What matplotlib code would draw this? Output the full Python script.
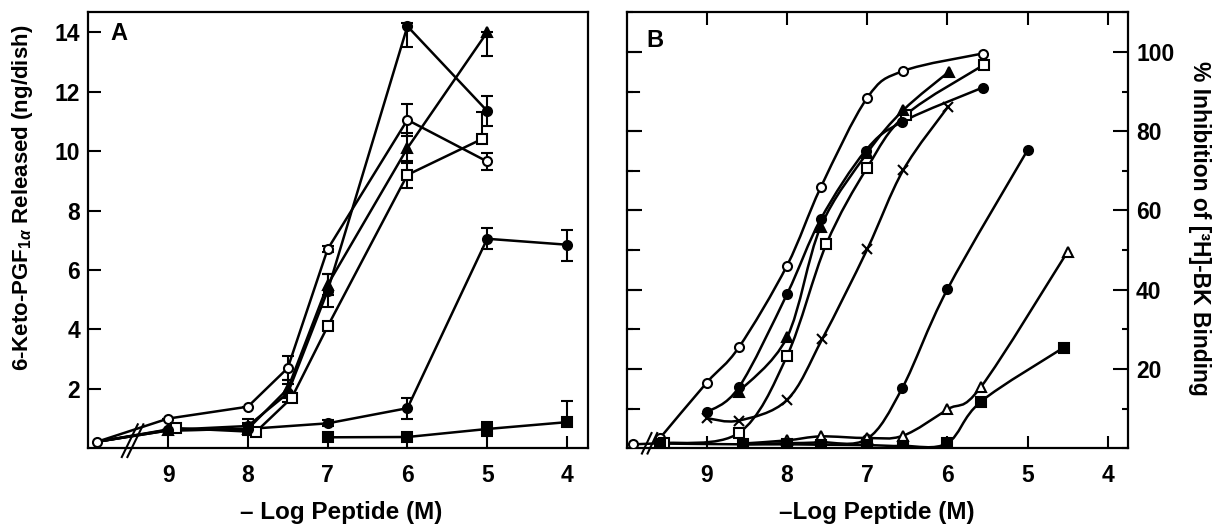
import numpy as np
import matplotlib
matplotlib.use("Agg")
import matplotlib.pyplot as plt
from matplotlib.path import Path
from matplotlib.patches import PathPatch
from matplotlib.ticker import MultipleLocator

plt.rcParams['font.family'] = 'Liberation Sans'
plt.rcParams['font.weight'] = 'bold'
plt.rcParams['axes.labelweight'] = 'bold'
plt.rcParams['mathtext.fontset'] = 'custom'
plt.rcParams['mathtext.rm'] = 'Liberation Sans:bold'
plt.rcParams['mathtext.it'] = 'Liberation Sans:italic:bold'
plt.rcParams['mathtext.bf'] = 'Liberation Sans:bold'

# ---- panel A: 6-keto-PGF1a released (ng/dish) ----
a_ctrl_x = 9.89
a_ctrl_y = 0.22

a_fc_x = [9, 8, 7.5, 7, 6, 5]
a_fc_y = [0.62, 0.75, 1.85, 5.3, 14.2, 11.35]
a_fc_lo = [0, 0.25, 0.3, 0.55, 0.7, 0.5]
a_fc_hi = [0, 0.25, 0.3, 0.55, 0.1, 0.5]

a_ft_x = [9, 8, 7.5, 7, 6, 5]
a_ft_y = [0.6, 0.65, 2.0, 5.5, 10.1, 14.0]
a_ft_lo = [0, 0.2, 0.3, 0.35, 0.5, 0.8]
a_ft_hi = [0, 0.2, 0.3, 0.35, 0.5, 0.0]

a_oc_x = [9, 8, 7.5, 7, 6, 5]
a_oc_y = [1.0, 1.4, 2.7, 6.7, 11.05, 9.65]
a_oc_lo = [0, 0, 0.4, 0.1, 0.55, 0.3]
a_oc_hi = [0, 0, 0.4, 0.1, 0.55, 0.3]

a_os_x = [8.9, 7.9, 7.45, 7, 6, 5.07]
a_os_y = [0.68, 0.55, 1.7, 4.1, 9.2, 10.4]
a_os_lo = [0, 0, 0, 0, 0.45, 0]
a_os_hi = [0, 0, 0, 0, 0.45, 0.9]

a_fd_x = [9, 8, 7, 6, 5, 4]
a_fd_y = [0.6, 0.65, 0.84, 1.35, 7.05, 6.85]
a_fd_lo = [0, 0.15, 0.1, 0.35, 0.35, 0.55]
a_fd_hi = [0, 0.15, 0.1, 0.35, 0.35, 0.5]

a_fs_x = [7, 6, 5, 4]
a_fs_y = [0.37, 0.38, 0.65, 0.88]
a_fs_lo = [0, 0, 0.25, 0]
a_fs_hi = [0, 0, 0.25, 0.72]

# ---- panel B: % inhibition of [3H]-BK binding ----
b_ctrl_x = 9.92
b_ctrl_y = 1.0

b_oc_x = [9.58, 9.0, 8.6, 8.0, 7.58, 7.0, 6.55, 5.56]
b_oc_y = [2.7, 16.6, 25.5, 46.1, 65.8, 88.4, 95.2, 99.6]

b_os_x = [9.54, 8.6, 8.0, 7.51, 7.0, 6.52, 5.54]
b_os_y = [1.3, 3.9, 23.3, 51.5, 70.8, 84.1, 96.8]

b_fc_x = [9.0, 8.6, 8.0, 7.58, 7.02, 6.56, 5.56]
b_fc_y = [9.1, 15.4, 38.9, 57.8, 75.1, 82.4, 91.0]

b_ft_x = [8.6, 8.0, 7.58, 7.0, 6.55, 5.98]
b_ft_y = [14.3, 28.0, 55.9, 74.5, 85.3, 95.0]

b_x_x = [9.0, 8.6, 8.0, 7.56, 7.0, 6.55, 5.99]
b_x_y = [7.6, 7.0, 12.2, 27.6, 50.2, 70.2, 86.2]

b_fc2_x = [8.55, 8.0, 7.58, 7.0, 6.56, 6.0, 5.0]
b_fc2_y = [1.0, 1.3, 1.5, 2.4, 15.3, 40.1, 75.2]

b_ot_x = [8.55, 8.0, 7.58, 7.0, 6.55, 6.0, 5.58, 4.5]
b_ot_y = [1.2, 2.0, 3.0, 2.6, 3.2, 9.8, 15.5, 49.6]

b_fs_x = [9.58, 8.55, 8.0, 7.58, 7.0, 6.55, 6.0, 5.58, 4.55]
b_fs_y = [1.2, 1.0, 1.0, 0.9, 0.8, 0.6, 1.3, 11.8, 25.4]

LW = 1.8
MS = 6.5


def smooth_path(xs, ys):
    # catmull-rom through the points, drawn as bezier segments
    pts = np.column_stack([xs, ys]).astype(float)
    n = len(pts)
    verts = [pts[0]]
    codes = [Path.MOVETO]
    for i in range(n - 1):
        p0 = pts[i - 1] if i > 0 else pts[i]
        p1 = pts[i]
        p2 = pts[i + 1]
        p3 = pts[i + 2] if i + 2 < n else pts[i + 1]
        verts += [p1 + (p2 - p0) / 6, p2 - (p3 - p1) / 6, p2]
        codes += [Path.CURVE4] * 3
    return Path(verts, codes)


def marker_kw(m, filled):
    return dict(marker=m, markersize=MS, markeredgewidth=1.5, markeredgecolor='black',
                markerfacecolor='black' if filled else 'white')


def break_mark(ax, x0, dx, y_lo, y_hi, gap):
    tr = ax.get_xaxis_transform()
    for off in (0, gap):
        ax.plot([x0 + dx + off, x0 - dx + off], [y_lo, y_hi], color='black',
                lw=1.5, transform=tr, clip_on=False, zorder=5)


fig = plt.figure(figsize=(12.17, 5.30), dpi=100)
axA = fig.add_axes([88.3 / 1217, 1 - 448.3 / 530, 499.4 / 1217, 436 / 530])
axB = fig.add_axes([626.7 / 1217, 1 - 448.3 / 530, 501 / 1217, 436 / 530])

# panel A
a_series = [
    (a_fc_x, a_fc_y, a_fc_lo, a_fc_hi, 'o', True, True),
    (a_ft_x, a_ft_y, a_ft_lo, a_ft_hi, '^', True, True),
    (a_oc_x, a_oc_y, a_oc_lo, a_oc_hi, 'o', False, True),
    (a_os_x, a_os_y, a_os_lo, a_os_hi, 's', False, True),
    (a_fd_x, a_fd_y, a_fd_lo, a_fd_hi, 'o', True, True),
    (a_fs_x, a_fs_y, a_fs_lo, a_fs_hi, 's', True, False),
]
for xs, ys, lo, hi, m, filled, from_ctrl in a_series:
    if from_ctrl:
        axA.plot([a_ctrl_x] + xs, [a_ctrl_y] + ys, color='black', lw=LW, zorder=2)
    else:
        axA.plot(xs, ys, color='black', lw=LW, zorder=2)
    axA.errorbar(xs, ys, yerr=[lo, hi], fmt='none', ecolor='black', elinewidth=1.5,
                 capsize=4.5, capthick=1.5, zorder=3)
    axA.plot(xs, ys, linestyle='none', zorder=4, **marker_kw(m, filled))
axA.plot([a_ctrl_x], [a_ctrl_y], linestyle='none', zorder=4, **marker_kw('o', False))

axA.set_xlim(10.0, 3.74)
axA.set_ylim(0, 14.67)
axA.set_xticks([9, 8, 7, 6, 5, 4])
axA.set_yticks([2, 4, 6, 8, 10, 12, 14])
axA.tick_params(direction='in', length=9, width=1.5, labelsize=16.5, pad=11)
axA.tick_params(axis='y', pad=6)
axA.text(0.045, 0.952, 'A', transform=axA.transAxes, fontsize=17, fontweight='bold',
         va='center', ha='left')
axA.set_ylabel('6-Keto-PGF$_{1\\alpha}$ Released (ng/dish)', fontsize=16, va='center')
axA.yaxis.set_label_coords(-0.131, 0.574)
break_mark(axA, 9.48, 0.1, -0.02, 0.055, -0.07)

# panel B
b_series = [
    (b_oc_x, b_oc_y, 'o', False),
    (b_os_x, b_os_y, 's', False),
    (b_fc_x, b_fc_y, 'o', True),
    (b_ft_x, b_ft_y, '^', True),
    (b_x_x, b_x_y, 'x', True),
    (b_fc2_x, b_fc2_y, 'o', True),
    (b_ot_x, b_ot_y, '^', False),
    (b_fs_x, b_fs_y, 's', True),
]
for xs, ys, m, filled in b_series:
    axB.add_patch(PathPatch(smooth_path(xs, ys), fill=False, edgecolor='black', lw=LW, zorder=2))
    axB.plot(xs, ys, linestyle='none', zorder=4, **marker_kw(m, filled))
axB.plot([b_ctrl_x, b_os_x[0]], [b_ctrl_y, b_os_y[0]], color='black', lw=LW, zorder=2)
axB.plot([b_ctrl_x], [b_ctrl_y], linestyle='none', zorder=4, **marker_kw('o', False))

axB.set_xlim(10.0, 3.75)
axB.set_ylim(0, 110)
axB.set_xticks([9, 8, 7, 6, 5, 4])
axB.yaxis.tick_right()
axB.yaxis.set_label_position('right')
axB.set_yticks([20, 40, 60, 80, 100])
axB.yaxis.set_minor_locator(MultipleLocator(10))
axB.tick_params(which='both', direction='in', top=True, left=True, right=True, bottom=True,
                width=1.5, labelsize=16.5)
axB.tick_params(axis='x', which='major', length=9, pad=11)
axB.tick_params(axis='y', which='major', length=11, pad=6)
axB.tick_params(axis='y', which='minor', length=4)
# left side has full-length ticks every 10
for v in range(10, 101, 10):
    axB.plot([0, 0.025], [v, v], color='black', lw=1.5, transform=axB.get_yaxis_transform(),
             clip_on=False)
axB.text(0.04, 0.935, 'B', transform=axB.transAxes, fontsize=17, fontweight='bold',
         va='center', ha='left')
axB.set_ylabel('% Inhibition of [\u00b3H]-BK Binding', fontsize=16.5, rotation=270,
               va='center')
axB.yaxis.set_label_coords(1.144, 0.505)
break_mark(axB, 9.75, 0.06, -0.012, 0.035, -0.07)

for ax in (axA, axB):
    for s in ax.spines.values():
        s.set_linewidth(1.6)

fig.text(341 / 1217, 1 - 512 / 530, '\u2013 Log Peptide (M)', fontsize=17.5,
         fontweight='bold', ha='center', va='center')
fig.text(877 / 1217, 1 - 512 / 530, '\u2013Log Peptide (M)', fontsize=17.5,
         fontweight='bold', ha='center', va='center')

fig.savefig('out.png', dpi=100)
